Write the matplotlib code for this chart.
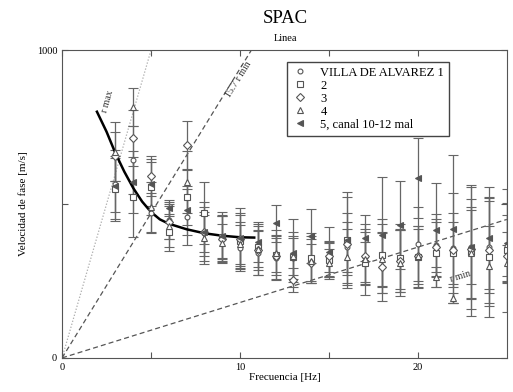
import numpy as np
import matplotlib
matplotlib.use('Agg')
import matplotlib.pyplot as plt
from matplotlib.lines import Line2D

plt.rcParams['font.family']=['Liberation Serif','DejaVu Serif']

freq=[3,4,5,6,7,8,9,10,11,12,13,14,15,16,17,18,19,20,21,22,23,24,25]

v_circ=[565,643,471,448,458,405,390,357,341,325,325,320,318,360,328,330,320,370,367,357,360,360,365]
e_circ=[90,110,65,60,90,100,70,75,70,70,70,75,55,80,80,120,95,120,100,180,120,150,100]
v_sq=[550,523,555,409,523,471,393,380,360,334,328,325,318,383,308,334,325,328,341,340,345,328,350]
e_sq=[100,130,90,60,90,100,80,90,75,80,80,80,60,155,70,100,110,100,110,100,210,195,200]
v_dia=[655,714,591,440,691,410,385,385,350,330,253,310,330,370,330,295,315,330,360,350,355,350,330]
e_dia=[80,90,65,55,80,80,75,80,80,60,40,60,50,100,90,110,100,100,80,120,160,170,80]
v_tri=[670,815,490,430,571,390,375,370,355,340,330,315,310,328,320,320,310,330,263,195,340,300,308]
e_tri=[95,62,80,70,100,75,60,70,60,60,60,70,45,90,115,90,109,90,32,15,150,130,60]
v_lt=[560,571,565,487,480,409,395,390,377,438,340,396,344,383,390,399,432,584,415,419,360,390,373]
e_lt=[115,100,70,26,80,65,70,97,65,60,110,88,80,140,74,189,143,130,153,240,202,165,130]

fit_f=[1.96,2.5,3,3.5,4,4.5,5,5.5,6,7,8,9,10,10.8]
fit_v=[800,735,665,605,552,508,474,450,436,418,405,397,392,391]

k_rmax=200
k_157rmin=94
k_rmin=18

fig=plt.figure(figsize=(5.13,3.92),dpi=100)
ax=fig.add_axes([0.121,0.087,0.867,0.785])

ff=np.array([0,25])
ax.plot(ff,k_rmax*ff,ls=(0,(1,1.5)),color='#aaaaaa',lw=0.9)
ax.plot(ff,k_157rmin*ff,ls=(0,(4,2.5)),color='#555555',lw=0.9)
ax.plot(ff,k_rmin*ff,ls=(0,(4,2.5)),color='#555555',lw=0.9)

series=[(v_circ,e_circ,'o',3.5,'white','VILLA DE ALVAREZ 1'),
        (v_sq,e_sq,'s',4.5,'white','2'),
        (v_dia,e_dia,'D',3.6,'white','3'),
        (v_tri,e_tri,'^',4,'white','4'),
        (v_lt,e_lt,'<',5,'#555555','5, canal 10-12 mal')]
handles=[]
for v,e,m,ms,fc,lab in series:
    ax.errorbar(freq,v,yerr=e,fmt=m,ms=ms,mfc=fc,mec='#555555',mew=0.8,
                ecolor='#666666',elinewidth=0.9,capsize=3.8,capthick=0.9)
    handles.append(Line2D([],[],ls='none',marker=m,ms=ms,mfc=fc,mec='#555555',mew=0.8,label=lab))

ax.plot(fit_f,fit_v,color='black',lw=1.8)

ax.text(2.55,835,'r max',rotation=74,fontsize=7,ha='center',va='center',color='#333333')
ax.text(9.95,905,'15.7 r min',rotation=58,fontsize=7,ha='center',va='center',color='#333333')
ax.text(22.4,263,'r min',rotation=17,fontsize=7,ha='center',va='center',color='#333333')

ax.set_xlim(0,25)
ax.set_ylim(0,1000)
ax.set_xticks([0,5,10,15,20])
ax.set_xticklabels(['0','','10','','20'])
ax.set_yticks([0,500,1000])
ax.set_yticklabels(['0','','1000'])
ax.tick_params(direction='in',top=True,right=True,labelsize=7.5,length=4,color='#555555')
for s in ax.spines.values():
    s.set_color('#555555')
ax.set_xlabel('Frecuencia [Hz]',fontsize=8,labelpad=1)
ax.set_ylabel('Velocidad de fase [m/s]',fontsize=8,labelpad=6)

fig.text(0.556,0.953,'SPAC',fontsize=13.5,ha='center',va='center')
fig.text(0.556,0.902,'Linea',fontsize=7.5,ha='center',va='center')

leg=ax.legend(handles=handles,loc='upper left',bbox_to_anchor=(0.505,0.962),fontsize=9,fancybox=False,
              framealpha=1,edgecolor='#444444',handlelength=1.4,handletextpad=0.9,
              borderpad=0.4,labelspacing=0.08,borderaxespad=0)
leg.get_frame().set_linewidth(1.0)

fig.savefig('out.png',dpi=100)
